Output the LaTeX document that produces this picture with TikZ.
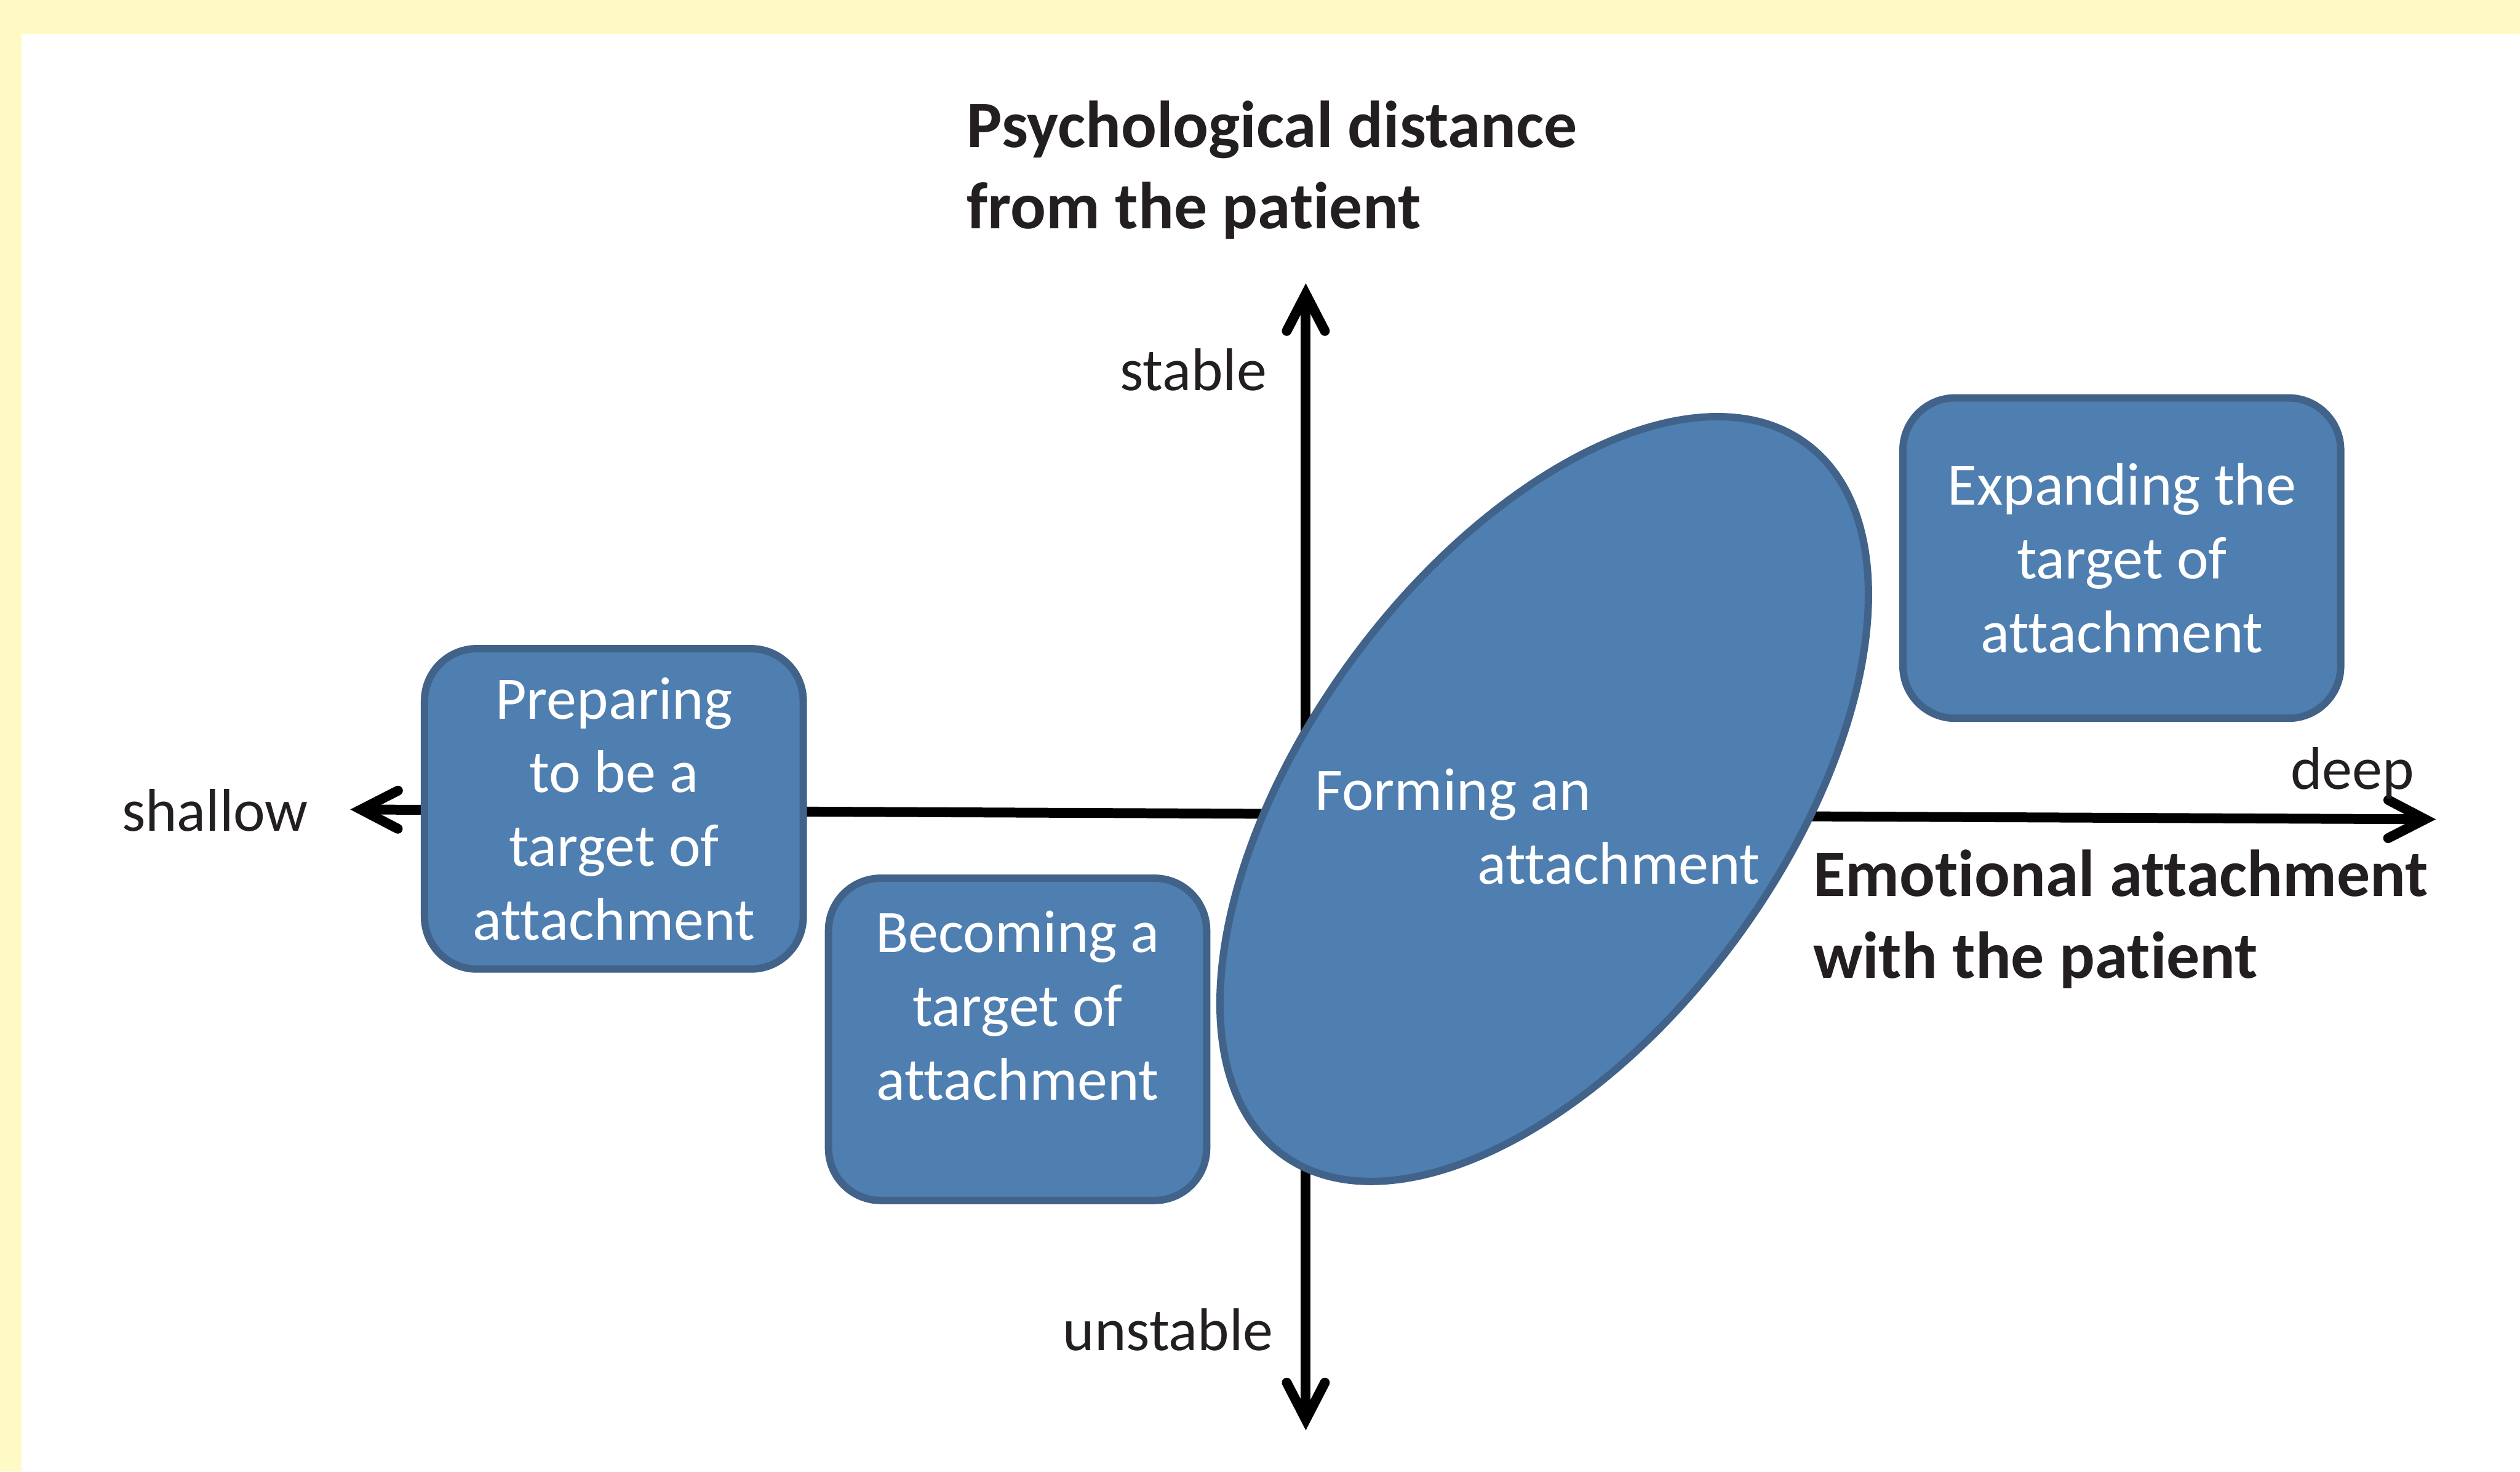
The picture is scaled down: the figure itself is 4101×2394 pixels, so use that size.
\documentclass[tikz,border=0pt]{standalone}
\usepackage{fontspec}
\setmainfont{Carlito}[Ligatures={NoCommon}]
\usetikzlibrary{shapes.geometric, arrows.meta, positioning, calc}

\definecolor{framebg}{HTML}{FFF9C4}
\definecolor{shapefill}{HTML}{4F7EB0}
\definecolor{shapeline}{HTML}{41638A}
\definecolor{labeltext}{HTML}{231F20}

\newcommand{\stagefont}{\fontsize{27.9}{34.1}\selectfont}
\newcommand{\headfont}{\bfseries\fontsize{30.7}{37.8}\selectfont}

\tikzset{
  stage/.style={draw=shapeline, fill=shapefill, line width=0.12cm,
    rounded corners=0.85cm, text=white, align=center, font=\stagefont},
  stagetext/.style={text=white, align=center, font=\stagefont, inner sep=0pt},
  axis/.style={line width=0.16cm, black},
  axislabel/.style={text=labeltext, font=\stagefont, inner sep=0pt},
  headlabel/.style={text=labeltext, font=\headfont, align=left, inner sep=0pt}
}

\begin{document}
\begin{tikzpicture}[x=0.01cm, y=-0.01cm,
  >={Straight Barb[length=0.6cm, width=0.62cm, line cap=round]}]

  % --- MOLDURA ---
  \useasboundingbox (0,0) rectangle (4101,2394);
  \fill[framebg] (0,0) rectangle (4101,2394);
  \fill[white] (35,55) rectangle (4101,2394);

  % --- EIXOS ---
  \coordinate (shallowEnd)  at (570,1317);
  \coordinate (deepEnd)     at (3964,1333);
  \coordinate (stableEnd)   at (2125,461);
  \coordinate (unstableEnd) at (2125,2327);

  \draw[axis, <->] (shallowEnd) -- (deepEnd);
  \draw[axis, <->] (unstableEnd) -- (stableEnd);

  % rotulos dos eixos
  \node[axislabel] (stable)   at (1942,602)  {stable};
  \node[axislabel] (unstable) at (1901,2163) {unstable};
  \node[axislabel] (shallow)  at (350,1318)  {shallow};
  \node[axislabel] (deep)     at (3828,1258) {deep};

  % titulos dos eixos
  \node[headlabel, anchor=north west] (distTitle) at (1573,163)
    {Psychological distance\\from the patient};
  \node[headlabel, anchor=north west] (emoTitle) at (2950,1382)
    {Emotional attachment\\with the patient};

  % --- ETAPAS ---
  % elipse central (rodada)
  \node[ellipse, draw=shapeline, fill=shapefill, line width=0.12cm,
        minimum width=14.36cm, minimum height=7.72cm, rotate=53.6]
        (forming) at (2513,1300) {};
  \node[stagetext, align=left] at (2502,1345)
    {Forming an\\\hspace*{2.64cm}attachment};

  % caixas
  \node[stage, minimum width=6.16cm, minimum height=5.21cm] (preparing)
    at (999,1316) {Preparing\\to be a\\target of\\attachment};
  \node[stage, minimum width=6.15cm, minimum height=5.24cm] (becoming)
    at (1656,1691) {};
  \node[stagetext] at ([yshift=0.55cm]becoming.center)
    {Becoming a\\target of\\attachment};
  \node[stage, minimum width=7.12cm, minimum height=5.21cm] (expanding)
    at (3453,908) {Expanding the\\target of\\attachment};

\end{tikzpicture}
\end{document}
